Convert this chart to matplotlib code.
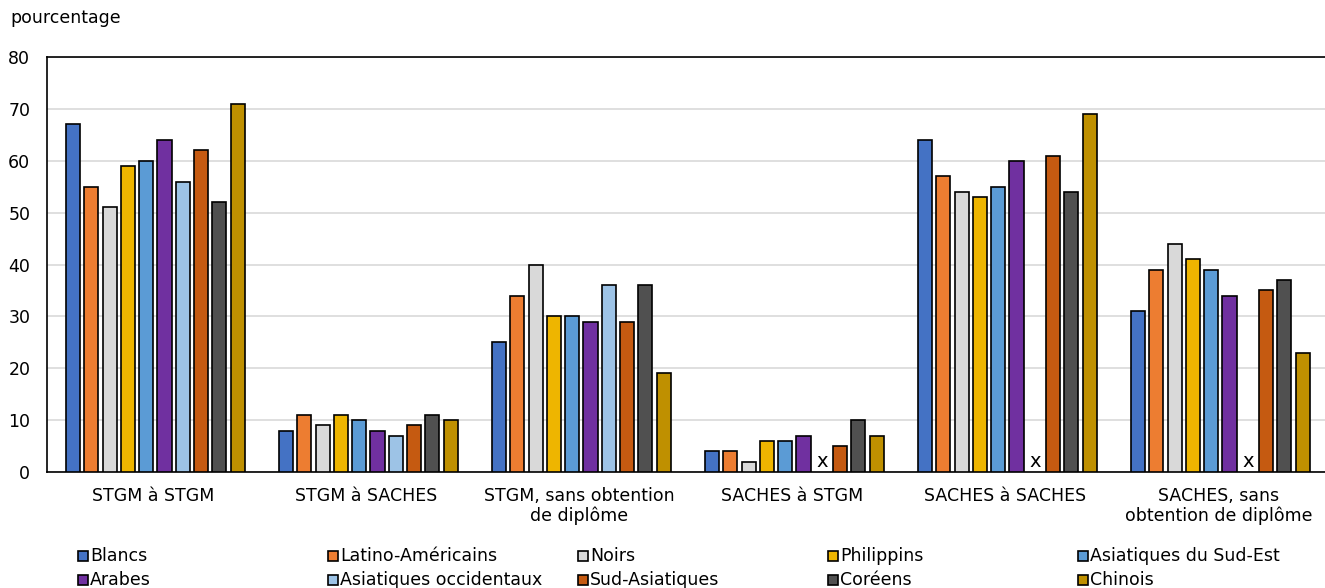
import numpy as np
import matplotlib
matplotlib.use("Agg")
import matplotlib.pyplot as plt
from matplotlib.patches import Rectangle

plt.rcParams["font.family"] = ["DejaVu Sans"]

CATEGORIES = ["STGM à STGM", "STGM à SACHES", "STGM, sans obtention\nde diplôme",
              "SACHES à STGM", "SACHES à SACHES", "SACHES, sans\nobtention de diplôme"]
GROUPS = ["Blancs", "Latino-Américains", "Noirs", "Philippins", "Asiatiques du Sud-Est",
          "Arabes", "Asiatiques occidentaux", "Sud-Asiatiques", "Coréens", "Chinois"]
COLORS = ["#4472C4", "#ED7D31", "#D9D9D9", "#EEB500", "#5B9BD5",
          "#7030A0", "#9DC3E6", "#C55A11", "#505050", "#BF9000"]

# one list per group, values per category (None = x, suppressed)
blancs     = [67, 8, 25, 4, 64, 31]
latino     = [55, 11, 34, 4, 57, 39]
noirs      = [51, 9, 40, 2, 54, 44]
philippins = [59, 11, 30, 6, 53, 41]
sud_est    = [60, 10, 30, 6, 55, 39]
arabes     = [64, 8, 29, 7, 60, 34]
occid      = [56, 7, 36, None, None, None]
sud_as     = [62, 9, 29, 5, 61, 35]
coreens    = [52, 11, 36, 10, 54, 37]
chinois    = [71, 10, 19, 7, 69, 23]
SERIES = [blancs, latino, noirs, philippins, sud_est, arabes, occid, sud_as, coreens, chinois]

FS = 12.5

fig = plt.figure(figsize=(13.25, 5.88), dpi=100)
ax = fig.add_axes([47 / 1325, 1 - 472 / 588, 1 - 47 / 1325, (472 - 57) / 588])

x = np.arange(len(CATEGORIES))
step = 0.086
width = 0.066
for i, (vals, color) in enumerate(zip(SERIES, COLORS)):
    pos = x + (i - 4.4) * step
    for p, v in zip(pos, vals):
        if v is None:
            ax.text(p, 0.2, "x", ha="center", va="bottom", fontsize=14)
        else:
            ax.bar(p, v, width, color=color, edgecolor="black", linewidth=1.2, zorder=3)

ax.set_xlim(-0.5, 5.5)
ax.set_ylim(0, 80)
ax.set_yticks(range(0, 81, 10))
ax.yaxis.grid(True, color="#d9d9d9", linewidth=1.2, zorder=0)
ax.set_axisbelow(True)
ax.set_xticks(x)
ax.set_xticklabels(CATEGORIES, fontsize=FS, linespacing=1.1)
ax.tick_params(axis="x", length=0, pad=11)
ax.tick_params(axis="y", length=0, pad=12, labelsize=FS)
for s in ["left", "bottom", "top"]:
    ax.spines[s].set_color("black")
    ax.spines[s].set_linewidth(1.2)
ax.spines["right"].set_visible(False)

fig.text(10 / 1325, 1 - 18 / 588, "pourcentage", fontsize=FS, va="center", ha="left")

# legend, 5 columns x 2 rows
for i, (name, color) in enumerate(zip(GROUPS, COLORS)):
    col, row = i % 5, i // 5
    lx = (78 + col * 250) / 1325
    ly = 1 - (556 + row * 24) / 588
    fig.add_artist(Rectangle((lx, ly - 5 / 588), 10 / 1325, 10 / 588,
                             facecolor=color, edgecolor="black", linewidth=1.2,
                             transform=fig.transFigure))
    fig.text(lx + 12 / 1325, ly, name, fontsize=FS, va="center", ha="left")

fig.savefig("out.png", dpi=100)
